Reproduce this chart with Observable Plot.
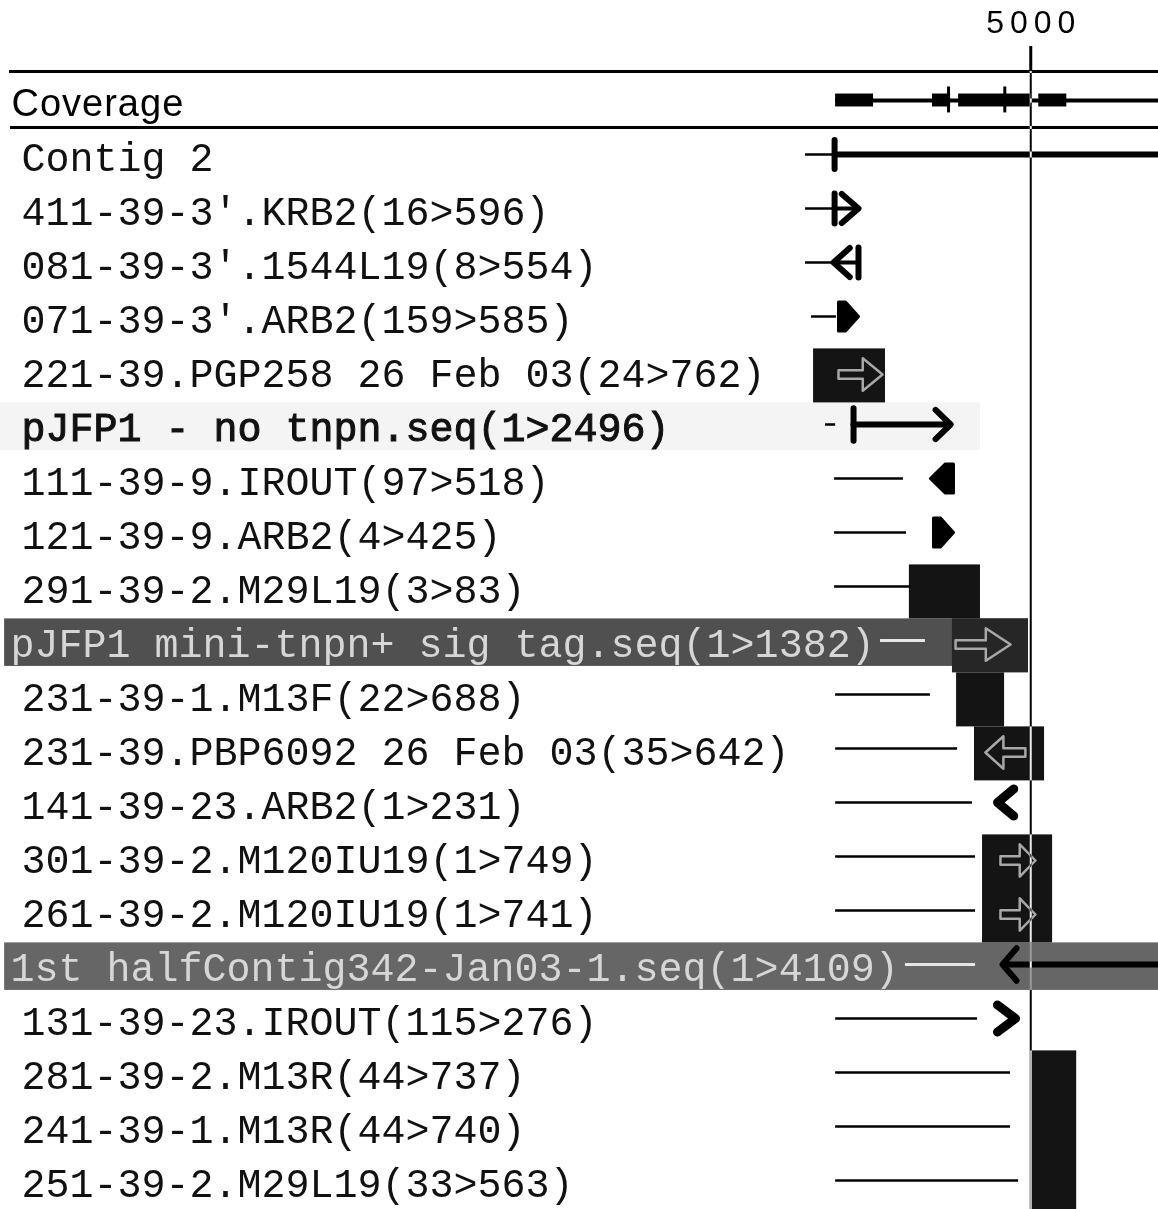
<!DOCTYPE html>
<html>
<head>
<meta charset="utf-8">
<script src="https://cdn.jsdelivr.net/npm/d3@7"></script>
<script src="https://cdn.jsdelivr.net/npm/@observablehq/plot@0.6"></script>
<style>
  html, body { margin: 0; padding: 0; background: #fff; }
  #chart svg { display: block; }
</style>
</head>
<body>
<div id="chart"></div>
<script>
// ---------- data ----------
const rowLabels = [
  "Coverage",
  "Contig 2",
  "411-39-3'.KRB2(16>596)",
  "081-39-3'.1544L19(8>554)",
  "071-39-3'.ARB2(159>585)",
  "221-39.PGP258 26 Feb 03(24>762)",
  "pJFP1 - no tnpn.seq(1>2496)",
  "111-39-9.IROUT(97>518)",
  "121-39-9.ARB2(4>425)",
  "291-39-2.M29L19(3>83)",
  "pJFP1 mini-tnpn+ sig tag.seq(1>1382)",
  "231-39-1.M13F(22>688)",
  "231-39.PBP6092 26 Feb 03(35>642)",
  "141-39-23.ARB2(1>231)",
  "301-39-2.M120IU19(1>749)",
  "261-39-2.M120IU19(1>741)",
  "1st halfContig342-Jan03-1.seq(1>4109)",
  "131-39-23.IROUT(115>276)",
  "281-39-2.M13R(44>737)",
  "241-39-1.M13R(44>740)",
  "251-39-2.M29L19(33>563)"
];
// thin alignment lines (bp), null = none
const lineStart = [null, 3907, 3907, 3907, 3936, null, 4004, 4048, 4048, 4048, 4271, 4053, 4053, 4053, 4053, 4053, 4392, 4053, 4053, 4053, 4053];
const lineEnd   = [null, 4048, 4048, 4043, 4057, null, 4053, 4382, 4397, 4416, 4489, 4513, 4645, 4717, 4732, 4732, 4732, 4742, 4902, 4902, 4941];

// coverage track
const coverageSpan = [4053, 5620];
const coverageBlockStart = [4053, 4523, 4650, 5039];
const coverageBlockEnd   = [4237, 4611, 5000, 5175];
const coverageTicks = [4601, 4874];

// read glyphs
const glyphRow   = [1, 2, 3, 4, 6, 7, 8, 13, 16, 17];
const glyphKind  = ["contig", "barR", "barL", "dR", "arrowR", "dL", "dR", "heartL", "arrowL", "heartR"];
const glyphStart = [4048, 4048, 4043, 4067, 4140, 4513, 4528, 4839, 4863, 4829];
const glyphEnd   = [5620, 4164, 4164, 4164, 4611, 4625, 4625, 4926, 5620, 4926];

// dark read boxes
const boxRowFrom = [5, 9, 10, 11, 12, 14, 18];
const boxRowTo   = [5, 9, 10, 11, 12, 15, 20];
const boxStart   = [3946, 4411, 4620, 4640, 4727, 4766, 5000];
const boxEnd     = [4295, 4756, 4989, 4873, 5067, 5106, 5223];

// arrows drawn inside boxes
const innerRow   = [5, 10, 12, 14, 15];
const innerStart = [4067, 4635, 4780, 4853, 4853];
const innerEnd   = [4281, 4902, 4974, 5023, 5023];
const innerDir   = ["R", "R", "L", "R", "R"];

// highlighted label bands
const bandRow   = [6, 10, 16];
const bandStart = [0, 20, 20];
const bandEnd   = [4756, 4989, 5620];
const bandKind  = ["faint", "dark", "dark"];

const axisTicks = [5000];

// ---------- derived tables ----------
const PX = 5620 / 1158; // bp per pixel
const rows = rowLabels.map((label, i) => ({i, label}));
const readLines = rows.filter(d => lineStart[d.i] != null)
  .map(d => ({row: d.i, x1: lineStart[d.i], x2: lineEnd[d.i]}));
const covBlocks = coverageBlockStart.map((s, k) => ({x1: s, x2: coverageBlockEnd[k]}));
const boxes = boxRowFrom.map((r, k) => ({r1: r, r2: boxRowTo[k], x1: boxStart[k], x2: boxEnd[k]}));
const bands = bandRow.map((r, k) => ({r, x1: bandStart[k], x2: bandEnd[k], kind: bandKind[k]}));

const shapes = [];
let sid = 0;
function add(cls, pts) { sid++; pts.forEach(([x, y]) => shapes.push({id: sid, cls, x, y})); }
glyphRow.forEach((r, k) => {
  const s = glyphStart[k], e = glyphEnd[k], w = e - s;
  switch (glyphKind[k]) {
    case "contig":
      add("s6", [[s, r - 0.27], [s, r + 0.27]]);
      add("s6", [[s, r], [e, r]]);
      break;
    case "barR":
      add("s6", [[s, r - 0.28], [s, r + 0.28]]);
      add("s4", [[s, r], [e, r]]);
      add("s6", [[s + 0.3 * w, r - 0.27], [e, r], [s + 0.3 * w, r + 0.27]]);
      break;
    case "barL":
      add("s6", [[e, r - 0.28], [e, r + 0.28]]);
      add("s4", [[s, r], [e, r]]);
      add("s6", [[s + 0.65 * w, r - 0.27], [s, r], [s + 0.65 * w, r + 0.27]]);
      break;
    case "dR":
      add("poly", [[s, r - 0.27], [s + 0.35 * w, r - 0.27], [e, r], [s + 0.35 * w, r + 0.27], [s, r + 0.27], [s, r - 0.27]]);
      break;
    case "dL":
      add("poly", [[e, r - 0.27], [e - 0.35 * w, r - 0.27], [s, r], [e - 0.35 * w, r + 0.27], [e, r + 0.27], [e, r - 0.27]]);
      break;
    case "arrowR":
      add("s6", [[s, r - 0.3], [s, r + 0.3]]);
      add("s6", [[s, r], [e - 2 * PX, r]]);
      add("s6", [[e - 15 * PX, r - 0.27], [e, r], [e - 15 * PX, r + 0.27]]);
      break;
    case "arrowL":
      add("s6", [[s + 2 * PX, r], [e, r]]);
      add("s6", [[s + 14 * PX, r - 0.3], [s, r], [s + 14 * PX, r + 0.3]]);
      break;
    case "heartL":
      add("s9", [[e - 0.1 * w, r - 0.25], [s, r], [e - 0.1 * w, r + 0.25]]);
      break;
    case "heartR":
      add("s9", [[s + 0.1 * w, r - 0.25], [e, r], [s + 0.1 * w, r + 0.25]]);
      break;
  }
});
innerRow.forEach((r, k) => {
  const s = innerStart[k], e = innerEnd[k], w = e - s;
  if (innerDir[k] === "R") {
    const m = e - 0.45 * w;
    add("inner", [[s, r - 0.08], [m, r - 0.08], [m, r - 0.3], [e, r], [m, r + 0.3], [m, r + 0.08], [s, r + 0.08], [s, r - 0.08]]);
  } else {
    const m = s + 0.45 * w;
    add("inner", [[e, r - 0.08], [m, r - 0.08], [m, r - 0.3], [s, r], [m, r + 0.3], [m, r + 0.08], [e, r + 0.08], [e, r - 0.08]]);
  }
});
const byCls = c => shapes.filter(d => d.cls === c);
const darkBandRows = new Set(bands.filter(b => b.kind === "dark").map(b => b.r));
const boldRows = new Set(bands.filter(b => b.kind === "faint").map(b => b.r));

// ---------- chart ----------
const chart = Plot.plot({
  width: 1158,
  height: 1209,
  marginLeft: 10,
  marginRight: 0,
  marginTop: 71,
  marginBottom: 0,
  style: {background: "white", color: "black", overflow: "visible"},
  x: {domain: [0, 5620], range: [0, 1158], label: null},
  y: {domain: [0, 20], range: [100, 1180], axis: null, label: null},
  marks: [
    Plot.frame({fill: "white", stroke: "none"}),
    // label highlight bands
    Plot.rect(bands, {
      x1: "x1", x2: "x2", y1: d => d.r - 0.4, y2: d => d.r + 0.48,
      fill: d => d.kind === "faint" ? "#f4f4f4" : (d.r === 16 ? "#666666" : "#505050")
    }),
    // read boxes
    Plot.rect(boxes, {
      x1: "x1", x2: "x2", y1: d => d.r1 - 0.4, y2: d => d.r2 + 0.6,
      fill: d => darkBandRows.has(d.r1) ? "#262626" : "#141414"
    }),
    Plot.line(byCls("inner"), {x: "x", y: "y", z: "id", stroke: "#a8a8a8", strokeWidth: 2.5, strokeLinejoin: "round", dy: 4}),
    // coverage track
    Plot.ruleY([0], {x1: coverageSpan[0], x2: coverageSpan[1], strokeWidth: 4}),
    Plot.rect(covBlocks, {x1: "x1", x2: "x2", y1: -0.12, y2: 0.12, fill: "black"}),
    Plot.ruleX(coverageTicks, {x: d => d, y1: -0.25, y2: 0.23, strokeWidth: 3}),
    // thin alignment lines
    Plot.ruleY(readLines, {
      y: "row", x1: "x1", x2: "x2",
      stroke: d => darkBandRows.has(d.row) ? "#e6e6e6" : "black",
      strokeWidth: d => darkBandRows.has(d.row) ? 3 : 2.5
    }),
    // glyphs
    Plot.line(byCls("s4"), {x: "x", y: "y", z: "id", stroke: "black", strokeWidth: 4}),
    Plot.line(byCls("s6"), {x: "x", y: "y", z: "id", stroke: "black", strokeWidth: 6, strokeLinecap: "round", strokeLinejoin: "round"}),
    Plot.line(byCls("s9"), {x: "x", y: "y", z: "id", stroke: "black", strokeWidth: 9, strokeLinecap: "round", strokeLinejoin: "round"}),
    Plot.line(byCls("poly"), {x: "x", y: "y", z: "id", stroke: "black", fill: "black", strokeWidth: 3, strokeLinejoin: "round"}),
    // labels
    Plot.text(rows.filter(d => d.i > 0), {
      y: "i", text: "label", frameAnchor: "left",
      textAnchor: "start", dy: 4,
      fontFamily: "'Liberation Mono', 'Courier New', monospace", fontSize: 40,
      fill: d => darkBandRows.has(d.i) ? "#d6d6d6" : "#111"
    }),
    Plot.text(rows.filter(d => d.i === 0), {
      y: "i", text: "label", frameAnchor: "left", dx: 1, textAnchor: "start", dy: 3,
      fontFamily: "'Liberation Sans', Arial, sans-serif", fontSize: 38, fill: "black"
    }),
    // header rules
    Plot.frame({anchor: "top", strokeWidth: 3}),
    Plot.ruleY([0.5], {strokeWidth: 3}),
    Plot.axisX({
      anchor: "top", ticks: axisTicks, tickFormat: "d", tickSize: 26, tickPadding: 13,
      strokeWidth: 3, fontSize: 32, fontFamily: "'Liberation Sans', Arial, sans-serif", label: null
    }),
    Plot.ruleX(axisTicks, {stroke: "white", strokeWidth: 2})
  ]
});

document.getElementById("chart").appendChild(chart);

// post-styling
const svg = d3.select(chart.tagName.toLowerCase() === "svg" ? chart : chart.querySelector("svg"));
svg.selectAll("text").each(function () {
  const t = this.textContent;
  const sel = d3.select(this);
  if (t === "Coverage") sel.style("letter-spacing", "1px");
  if (t === "5000") sel.style("letter-spacing", "6px").style("font-size", "32px").attr("font-size", 32).attr("dx", 3);
  const idx = rowLabels.indexOf(t);
  if (idx > 0) {
    const shift = darkBandRows.has(idx) ? 0 : 11;
    sel.attr("transform", (sel.attr("transform") || "") + ` translate(${shift},0)`);
    if (boldRows.has(idx)) sel.attr("stroke", "#111").attr("stroke-width", 1);
  }
});
// vertical 5000 rule inverts over dark areas
svg.selectAll('g[aria-label="rule"]').each(function () {
  const g = d3.select(this);
  const isWhite = g.attr("stroke") === "white" || (!g.select("line").empty() && g.select("line").attr("stroke") === "white");
  if (isWhite) g.style("mix-blend-mode", "difference");
});
</script>
</body>
</html>
